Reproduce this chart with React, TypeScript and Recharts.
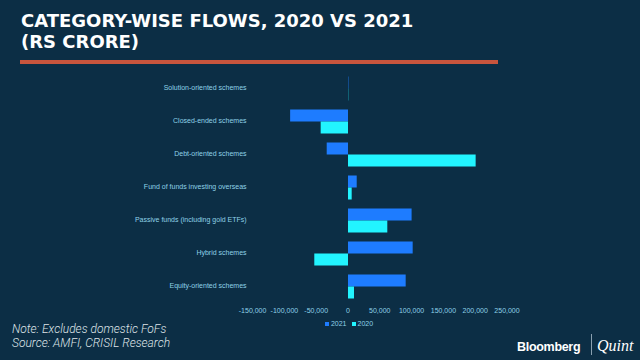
import React from "react";
import { BarChart, Bar, XAxis, YAxis, Legend } from "recharts";

const categories = [
  "Solution-oriented schemes",
  "Closed-ended schemes",
  "Debt-oriented schemes",
  "Fund of funds investing overseas",
  "Passive funds (including gold ETFs)",
  "Hybrid schemes",
  "Equity-oriented schemes",
];
const flows2021 = [600, -91000, -33500, 13700, 100000, 101700, 90700];
const flows2020 = [400, -43000, 200700, 5800, 61800, -53000, 9400];
const xTicks = [-150000, -100000, -50000, 0, 50000, 100000, 150000, 200000, 250000];
const seriesNames = ["2021", "2020"];
const titleLines = ["CATEGORY-WISE FLOWS, 2020 VS 2021", "(RS CRORE)"];
const noteLines = ["Note: Excludes domestic FoFs", "Source: AMFI, CRISIL Research"];

const data = categories.map((c, i) => ({ name: c, y2021: flows2021[i], y2020: flows2020[i] }));

const BG = "#0c2e45";
const BLUE = "#1e7cff";
const CYAN = "#22f4ff";
const LABEL = "#8fd2e8";

const fmt = (v: number) => v.toLocaleString("en-US");

const LegendContent = () => (
  <div style={{ display: "flex", justifyContent: "center", gap: 5, fontFamily: "'Liberation Sans', Arial, sans-serif", fontSize: 7, color: LABEL, paddingLeft: 58 }}>
    {[BLUE, CYAN].map((c, i) => (
      <span key={i} style={{ display: "flex", alignItems: "center", gap: 2 }}>
        <span style={{ width: 4, height: 4, background: c, display: "inline-block" }} />
        {seriesNames[i]}
      </span>
    ))}
  </div>
);

const titleStyle: React.CSSProperties = {
  position: "absolute",
  left: 21,
  color: "#ffffff",
  fontFamily: "'DejaVu Sans', sans-serif",
  fontWeight: 700,
  fontSize: 18,
  lineHeight: "21px",
  letterSpacing: 0,
  whiteSpace: "nowrap",
};

const noteStyle: React.CSSProperties = {
  position: "absolute",
  left: 12,
  color: "#dfe4e8",
  fontFamily: "Roboto, sans-serif",
  fontStyle: "italic",
  fontWeight: 300,
  fontSize: 12,
  lineHeight: "13px",
  whiteSpace: "nowrap",
};

export default function App() {
  return (
    <div style={{ position: "fixed", left: 0, top: 0, width: 640, height: 360, background: BG, overflow: "hidden" }}>
      <div style={{ ...titleStyle, top: 10 }}>{titleLines[0]}</div>
      <div style={{ ...titleStyle, top: 31.2 }}>{titleLines[1]}</div>
      <div style={{ position: "absolute", left: 20, top: 60, width: 478, height: 4, background: "#c8553d" }} />
      <div style={{ position: "absolute", left: 0, top: 0 }}>
        <BarChart
          width={640}
          height={360}
          data={data}
          layout="vertical"
          margin={{ top: 71.5, right: 133, bottom: 37.5, left: 0 }}
          barGap={0}
          barSize={12}
        >
          <XAxis
            type="number"
            domain={[-150000, 250000]}
            ticks={xTicks}
            tickFormatter={fmt}
            axisLine={false}
            tickLine={false}
            tickSize={6}
            tickMargin={0}
            height={20}
            interval={0}
            tick={{ fill: LABEL, fontSize: 7, fontFamily: "'Liberation Sans', Arial, sans-serif" }}
          />
          <YAxis
            type="category"
            dataKey="name"
            width={252.6}
            axisLine={false}
            tickLine={false}
            tickSize={6}
            tickMargin={0}
            interval={0}
            tick={{ fill: LABEL, fontSize: 7, fontFamily: "'Liberation Sans', Arial, sans-serif" }}
          />
          <Legend
            layout="horizontal"
            verticalAlign="middle"
            align="center"
            content={<LegendContent />}
            wrapperStyle={{ top: 320, left: 0, width: 640 }}
          />
          <Bar dataKey="y2021" name="2021" fill={BLUE} isAnimationActive={false} />
          <Bar dataKey="y2020" name="2020" fill={CYAN} isAnimationActive={false} />
        </BarChart>
      </div>
      <div style={{ ...noteStyle, top: 323.4 }}>{noteLines[0]}</div>
      <div style={{ ...noteStyle, top: 336.8 }}>{noteLines[1]}</div>
      <div style={{ position: "absolute", left: 517, top: 339.5, color: "#ffffff", fontFamily: "'Liberation Sans', Arial, sans-serif", fontWeight: 700, fontSize: 12.5, lineHeight: "14px", letterSpacing: -0.3, whiteSpace: "nowrap" }}>
        Bloomberg
      </div>
      <div style={{ position: "absolute", left: 591, top: 334, width: 1, height: 21, background: "#8aa0b0" }} />
      <div style={{ position: "absolute", left: 597, top: 337, color: "#ffffff", fontFamily: "'Liberation Serif', serif", fontStyle: "italic", fontSize: 16, lineHeight: "18px", whiteSpace: "nowrap" }}>
        Quint
      </div>
    </div>
  );
}
